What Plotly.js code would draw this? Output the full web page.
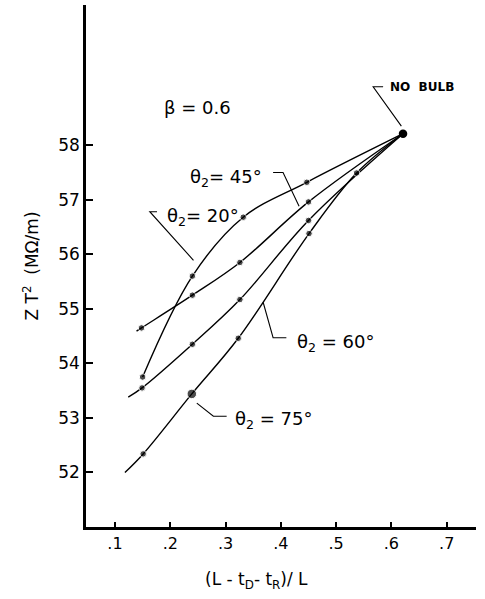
<!DOCTYPE html>
<html>
<head>
<meta charset="utf-8">
<script src="https://cdn.plot.ly/plotly-3.0.1.min.js"></script>
<style>html,body{margin:0;padding:0;background:#fff;}#chart{width:485px;height:599px;}</style>
</head>
<body>
<div id="chart"></div>
<script>
// ---- data ----
const seriesNames = ["θ2 = 20°", "θ2 = 45°", "θ2 = 60°", "θ2 = 75°"];
const x20 = [0.15, 0.24, 0.332, 0.447, 0.621];
const y20 = [53.75, 55.60, 56.68, 57.32, 58.21];
const x45 = [0.148, 0.24, 0.326, 0.45, 0.621];
const y45 = [54.65, 55.25, 55.85, 56.96, 58.21];
const x60 = [0.149, 0.24, 0.326, 0.45, 0.621];
const y60 = [53.55, 54.35, 55.17, 56.62, 58.21];
const x75 = [0.151, 0.239, 0.323, 0.451, 0.537, 0.621];
const y75 = [52.34, 53.44, 54.46, 56.38, 57.49, 58.21];
// where each faired curve starts (drawn line, no measured point)
const lineStartX = [null, 0.139, 0.124, 0.118];
const lineStartY = [null, 54.59, 53.38, 52.00];
const noBulbX = [0.621];
const noBulbY = [58.21];
const xTickVals = [0.1, 0.2, 0.3, 0.4, 0.5, 0.6, 0.7];
const xTickText = [".1", ".2", ".3", ".4", ".5", ".6", ".7"];
const yTickVals = [52, 53, 54, 55, 56, 57, 58];

const FONT = "DejaVu Sans";
const xs = [x20, x45, x60, x75];
const ys = [y20, y45, y60, y75];

const traces = [];
xs.forEach((xv, i) => {
  const lx = lineStartX[i] === null ? xv.slice() : [lineStartX[i]].concat(xv);
  const ly = lineStartY[i] === null ? ys[i].slice() : [lineStartY[i]].concat(ys[i]);
  traces.push({
    x: lx, y: ly, type: "scatter", mode: "lines", name: seriesNames[i],
    line: {color: "#000", width: 1.4, shape: "spline", smoothing: 1.0},
    hoverinfo: "skip", showlegend: false
  });
  traces.push({
    x: xv.slice(0, -1), y: ys[i].slice(0, -1), type: "scatter", mode: "markers",
    name: seriesNames[i],
    marker: {color: "#000", size: xv.slice(0, -1).map((_, k) => (i === 3 && k === 1) ? 9.5 : 6.5)},
    showlegend: false
  });
});
traces.push({
  x: noBulbX, y: noBulbY, type: "scatter", mode: "markers", name: "NO BULB",
  marker: {color: "#000", size: 8.5}, showlegend: false
});

const leader = (pts) => ({
  type: "path", xref: "x", yref: "y",
  path: "M " + pts.map(p => p[0] + "," + p[1]).join(" L "),
  line: {color: "#000", width: 1.1}
});

const shapes = [
  leader([[0.585, 59.07], [0.567, 59.07], [0.618, 58.35]]),
  leader([[0.386, 57.50], [0.404, 57.50], [0.433, 56.88]]),
  leader([[0.176, 56.78], [0.163, 56.78], [0.242, 55.89]]),
  leader([[0.368, 55.12], [0.386, 54.47], [0.410, 54.47]]),
  leader([[0.248, 53.27], [0.278, 53.03], [0.302, 53.03]])
];

const txt = (text, x, y, size, weight) => ({
  text: text, x: x, y: y, xref: "x", yref: "y", showarrow: false,
  xanchor: "left", yanchor: "middle",
  font: {family: FONT, size: size, color: "#000", weight: weight || "normal"}
});

const annotations = [
  txt("NO  BULB", 0.594, 59.07, 12, "bold"),
  txt("β = 0.6", 0.185, 58.70, 18),
  txt("θ<sub>2</sub>= 45°", 0.232, 57.40, 18),
  txt("θ<sub>2</sub>= 20°", 0.190, 56.68, 18),
  txt("θ<sub>2</sub> = 60°", 0.4255, 54.38, 18),
  txt("θ<sub>2</sub> = 75°", 0.313, 52.97, 18),
  {
    text: "(L - t<sub>D</sub>- t<sub>R</sub>)/ L", xref: "paper", yref: "paper",
    x: 0.436, y: -0.102, xanchor: "center", yanchor: "middle", showarrow: false,
    font: {family: FONT, size: 17, color: "#000"}
  }
];

const layout = {
  width: 485, height: 599,
  margin: {l: 86, r: 9, t: 5, b: 72},
  paper_bgcolor: "#fff", plot_bgcolor: "#fff",
  font: {family: FONT, size: 16, color: "#000"},
  showlegend: false,
  xaxis: {
    range: [0.0476, 0.753], showgrid: false, zeroline: false,
    showline: true, linecolor: "#000", linewidth: 2.5,
    ticks: "inside", ticklen: 5, tickwidth: 1.5, tickcolor: "#000",
    tickmode: "array", tickvals: xTickVals, ticktext: xTickText,
    tickfont: {family: FONT, size: 16, color: "#000"}
  },
  yaxis: {
    range: [51.0, 60.57], showgrid: false, zeroline: false,
    showline: true, linecolor: "#000", linewidth: 2.5,
    ticks: "inside", ticklen: 7, tickwidth: 1.5, tickcolor: "#000",
    tickmode: "array", tickvals: yTickVals,
    tickfont: {family: FONT, size: 17, color: "#000"},
    title: {text: "Z T<sup>2</sup>  (MΩ/m)", font: {family: FONT, size: 17, color: "#000"}, standoff: 16}
  },
  shapes: shapes,
  annotations: annotations
};

Plotly.newPlot("chart", traces, layout, {displayModeBar: false});
</script>
</body>
</html>
